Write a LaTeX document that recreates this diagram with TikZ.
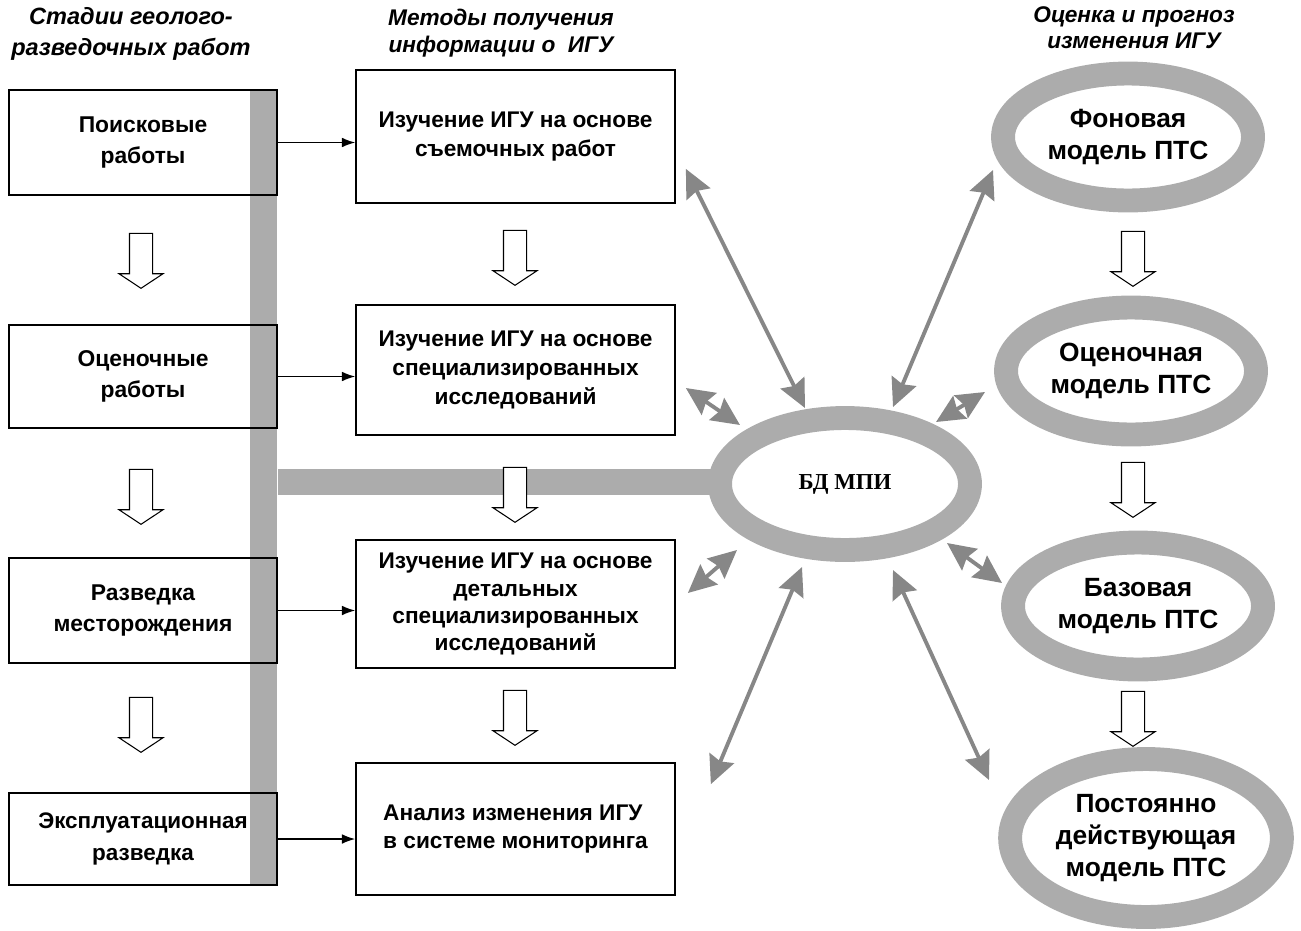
\documentclass[tikz,border=0pt]{standalone}
\usepackage{fontspec}
\setmainfont{Liberation Sans}
\newfontfamily\dbfont{Liberation Serif}
\usetikzlibrary{arrows.meta,positioning,shapes.geometric,shapes.arrows,calc}
\definecolor{ringgray}{RGB}{172,172,172}
\definecolor{arrgray}{RGB}{135,135,135}

\begin{document}
\begin{tikzpicture}[
    x=0.02cm, y=-0.02cm,
    stagebox/.style={rectangle, draw=black, line width=1pt, minimum width=5.36cm, align=center, font=\fontsize{13}{18}\selectfont\bfseries},
    methodbox/.style={rectangle, draw=black, fill=white, line width=1pt, minimum width=6.38cm, align=center, font=\fontsize{12.9}{16}\selectfont\bfseries},
    model/.style={ellipse, draw=ringgray, fill=white, line width=13.6pt, minimum width=5cm, minimum height=2.54cm, align=center, font=\fontsize{15}{18}\selectfont\bfseries},
    heading/.style={align=center, font=\fontsize{12.9}{15}\selectfont\bfseries\itshape},
    hollow/.style={single arrow, draw=black, fill=white, line width=0.6pt, rotate=-90, inner sep=0.22cm, minimum height=1.1cm, minimum width=0.86cm, single arrow head extend=0.21cm, single arrow tip angle=113},
    link/.style={-{Latex[length=7.5pt,width=5.5pt]}, line width=0.75pt},
    dbl/.style={{Stealth[length=16pt,width=15pt,inset=2pt]}-{Stealth[length=16pt,width=15pt,inset=2pt]}, draw=arrgray, line width=2.2pt},
    bar/.style={fill=ringgray, draw=none}
]
\useasboundingbox (0,0) rectangle (1301,930);

% column headings
\node[heading, font=\fontsize{13.4}{18}\selectfont\bfseries\itshape] (h1) at (131,34) {Стадии геолого-\\разведочных работ};
\node[heading] (h2) at (501,33) {Методы получения\\информации о~ ИГУ};
\node[heading] (h3) at (1134,28) {Оценка и прогноз\\изменения ИГУ};

% stage boxes (no fill, the bar shows through)
\coordinate (bartop) at (250,90);
\coordinate (barbot) at (277,885);
\fill[bar] (bartop) rectangle (barbot);

\node[stagebox, minimum height=2.1cm] (st1) at (143,142.5) {Поисковые\\работы};
\node[stagebox, minimum height=2.06cm] (st2) at (143,376.5) {Оценочные\\работы};
\node[stagebox, minimum height=2.1cm] (st3) at (143,610.5) {Разведка\\месторождения};
\node[stagebox, minimum height=1.84cm, font=\fontsize{12.8}{18}\selectfont\bfseries] (st4) at (143,839) {Эксплуатационная\\разведка};

% database ring and the bar leading to it
\fill[bar] ($(st2.east |- 0,482)+(0,-13)$) rectangle (760,495);
\node[model, minimum height=2.64cm, font=\dbfont\fontsize{13}{16}\selectfont\bfseries] (db) at (845,484) {БД МПИ};

% methods
\node[methodbox, minimum height=2.66cm] (me1) at (515.5,136.5) {Изучение ИГУ на основе\\съемочных работ};
\node[methodbox, minimum height=2.6cm, font=\fontsize{12.9}{16.6}\selectfont\bfseries] (me2) at (515.5,370) {Изучение ИГУ на основе\\специализированных\\исследований};
\node[methodbox, minimum height=2.56cm, font=\fontsize{12.9}{15.4}\selectfont\bfseries] (me3) at (515.5,604) {Изучение ИГУ на основе\\детальных\\специализированных\\исследований};
\node[methodbox, minimum height=2.64cm, align=left] (me4) at (515.5,829) {Анализ изменения ИГУ\\в системе мониторинга};

% models
\node[model] (md1) at (1128,137) {Фоновая\\модель ПТС};
\node[model] (md2) at (1131,371) {Оценочная\\модель ПТС};
\node[model] (md3) at (1138,606) {Базовая\\модель ПТС};
\node[model, minimum width=5.28cm, minimum height=3.16cm] (md4) at (1146,838) {Постоянно\\действующая\\модель ПТС};

% hollow arrows between stages
\node[hollow] (a1) at (141,257) {};
\node[hollow] (a2) at (141,493) {};
\node[hollow] (a3) at (141,721) {};
\node[hollow] (b1) at (515,254) {};
\node[hollow] (b2) at (515,491) {};
\node[hollow] (b3) at (515,714) {};
\node[hollow] (c1) at (1133,255) {};
\node[hollow] (c2) at (1133,486) {};
\node[hollow] (c3) at (1133,715) {};

% stage -> method
\draw[link] (st1.east) -- (st1.east -| me1.west);
\draw[link] (st2.east) -- (st2.east -| me2.west);
\draw[link] (st3.east) -- (st3.east -| me3.west);
\draw[link] (st4.east) -- (st4.east -| me4.west);

% exchange with the database
\draw[dbl] ($(me1.south east)+(10,-35)$) -- ($(db)+(-40,-76)$);
\draw[dbl] ($(md1)+(-135,33)$) -- ($(db)+(48,-77)$);
\draw[dbl] ($(me2.east)+(10,18)$) -- ($(db)+(-105,-59)$);
\draw[dbl] ($(md2)+(-146,21)$) -- ($(db)+(91,-62)$);
\draw[dbl] ($(me3.east)+(12,-11)$) -- ($(db)+(-108,66)$);
\draw[dbl] ($(md3)+(-136,-23)$) -- ($(db)+(102,59)$);
\draw[dbl] ($(me4.north east)+(35,22)$) -- ($(db)+(-43,83)$);
\draw[dbl] ($(md4)+(-157,-58)$) -- ($(db)+(48,86)$);
\end{tikzpicture}
\end{document}
